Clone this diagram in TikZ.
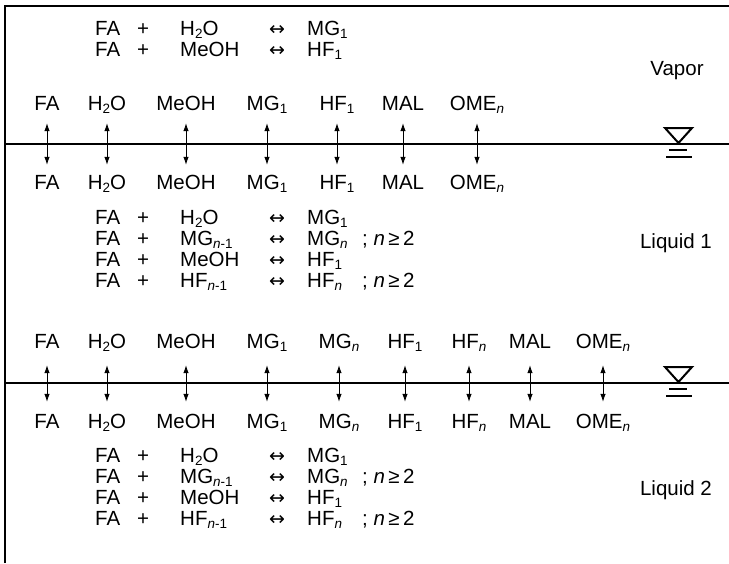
\documentclass[tikz,border=0pt]{standalone}
\usepackage{fontspec}
\setmainfont{Liberation Sans}
\newfontfamily\arrowfont{DejaVu Sans}
\usetikzlibrary{arrows.meta}
% lowered subscript and italic index
\newcommand\lo[1]{\raisebox{-0.15em}{\fontsize{13.5}{14}\selectfont #1}}
\newcommand\ix{\textit{n}}
\newcommand\eqarrow{{\arrowfont\fontsize{19}{19}\selectfont ↔}}
\begin{document}
\begin{tikzpicture}[x=1pt,y=-1pt,
  font=\fontsize{20.5}{24}\selectfont,
  frame/.style={line width=2.8pt},
  sym/.style={line width=2pt},
  sp/.style={anchor=base, inner sep=0pt, text height=14pt, text depth=0pt},
  rx/.style={anchor=base west, inner sep=0pt},
  op/.style={anchor=base, inner sep=0pt},
  lbl/.style={anchor=base, inner sep=0pt},
  biarrow/.style={line width=0.8pt, {Latex[length=8pt,width=5.5pt]}-{Latex[length=8pt,width=5.5pt]}}]
\useasboundingbox (0,0) rectangle (729,563);

% outer frame and the two phase interfaces
\draw[frame] (5,563) -- (5,6) -- (729,6);
\draw[frame] (5,144) -- (729,144);
\draw[frame] (5,383) -- (729,383);

% free-surface symbols
\draw[sym] (665,128) -- (692,128) -- (678.5,143) -- cycle;
\draw[sym] (669,150) -- (687,150);
\draw[sym] (666,157) -- (692,157);
\draw[sym] (665,367) -- (692,367) -- (678.5,382) -- cycle;
\draw[sym] (669,389) -- (687,389);
\draw[sym] (666,396) -- (692,396);

% phase labels
\node[lbl] (vapor) at (677,75) {Vapor};
\node[lbl] (liq1) at (676,248) {Liquid 1};
\node[lbl] (liq2) at (676,495) {Liquid 2};

% vapor / liquid 1 exchange
\foreach \nm/\x/\txt in {FA/47/FA, HW/107/H\lo{2}O, ME/186/MeOH, MGa/267/MG\lo{1},
    HFa/337/HF\lo{1}, MAL/403/MAL, OME/477/OME\lo{\ix}} {
  \node[sp] (v\nm) at (\x,110) {\txt};
  \node[sp] (a\nm) at (\x,189) {\txt};
  \draw[biarrow, shorten <=13pt, shorten >=10pt] (v\nm.south) -- (a\nm.north);
}

% liquid 1 / liquid 2 exchange
\foreach \nm/\x/\txt in {FA/47/FA, HW/107/H\lo{2}O, ME/186/MeOH, MGa/267/MG\lo{1},
    MGn/339/MG\lo{\ix}, HFa/405/HF\lo{1}, HFn/469/HF\lo{\ix}, MAL/530/MAL, OME/603/OME\lo{\ix}} {
  \node[sp] (b\nm) at (\x,348) {\txt};
  \node[sp] (c\nm) at (\x,428) {\txt};
  \draw[biarrow, shorten <=17pt, shorten >=12pt] (b\nm.south) -- (c\nm.north);
}

% vapor reactions
\node[rx] (vr1a) at (95,35) {FA};
\node[op] (vr1p) at (143,35) {+};
\node[rx] (vr1b) at (180,35) {H\lo{2}O};
\node[op] (vr1e) at (277,35) {\eqarrow};
\node[rx] (vr1c) at (307,35) {MG\lo{1}};
\node[rx] (vr2a) at (95,56) {FA};
\node[op] (vr2p) at (143,56) {+};
\node[rx] (vr2b) at (180,56) {MeOH};
\node[op] (vr2e) at (277,56) {\eqarrow};
\node[rx] (vr2c) at (307,56) {HF\lo{1}};

% liquid reactions (same set in both liquid phases)
\foreach \ph/\y in {p/224, q/462} {
  \node[rx] (\ph1a) at (95,\y) {FA};
  \node[op] (\ph1p) at (143,\y) {+};
  \node[rx] (\ph1b) at (180,\y) {H\lo{2}O};
  \node[op] (\ph1e) at (277,\y) {\eqarrow};
  \node[rx] (\ph1c) at (307,\y) {MG\lo{1}};
  \node[rx] (\ph2a) at (95,\y+21) {FA};
  \node[op] (\ph2p) at (143,\y+21) {+};
  \node[rx] (\ph2b) at (180,\y+21) {MG\lo{\ix-1}};
  \node[op] (\ph2e) at (277,\y+21) {\eqarrow};
  \node[rx] (\ph2c) at (307,\y+21) {MG\lo{\ix}};
  \node[rx] (\ph2d) at (362,\y+21) {; \ix\,≥\,2};
  \node[rx] (\ph3a) at (95,\y+42) {FA};
  \node[op] (\ph3p) at (143,\y+42) {+};
  \node[rx] (\ph3b) at (180,\y+42) {MeOH};
  \node[op] (\ph3e) at (277,\y+42) {\eqarrow};
  \node[rx] (\ph3c) at (307,\y+42) {HF\lo{1}};
  \node[rx] (\ph4a) at (95,\y+63) {FA};
  \node[op] (\ph4p) at (143,\y+63) {+};
  \node[rx] (\ph4b) at (180,\y+63) {HF\lo{\ix-1}};
  \node[op] (\ph4e) at (277,\y+63) {\eqarrow};
  \node[rx] (\ph4c) at (307,\y+63) {HF\lo{\ix}};
  \node[rx] (\ph4d) at (362,\y+63) {; \ix\,≥\,2};
}
\end{tikzpicture}
\end{document}
